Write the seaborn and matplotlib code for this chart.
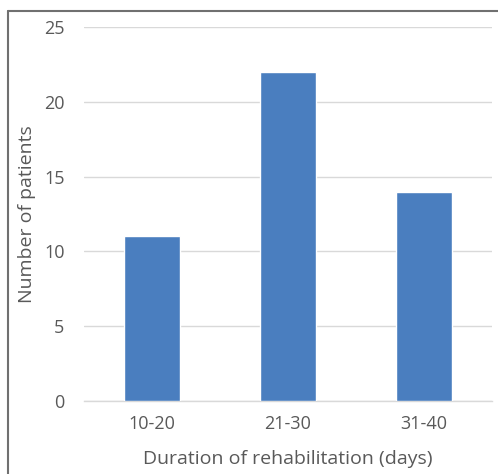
import pandas as pd
import matplotlib.pyplot as plt
import seaborn as sns
from matplotlib.lines import Line2D

categories = ["10-20", "21-30", "31-40"]
patients = [11, 22, 14]
y_ticks = [0, 5, 10, 15, 20, 25]

df = pd.DataFrame({"duration": categories, "patients": patients})

sns.set_theme(style="white")
plt.rcParams["font.family"] = ["Open Sans", "DejaVu Sans"]

fig = plt.figure(figsize=(4.98, 4.74), dpi=100)
ax = fig.add_axes([84 / 498, (474 - 401) / 474, (492 - 84) / 498, (401 - 27) / 474])

sns.barplot(data=df, x="duration", y="patients", color="#4a7ebf", width=0.41,
            saturation=1, ax=ax, zorder=3)

ax.set_ylim(0, 25)
ax.set_xlim(-0.5, 2.5)
ax.set_yticks(y_ticks)
ax.yaxis.grid(True, color="#d9d9d9", linewidth=1, zorder=0)
for s in ["top", "right", "left"]:
    ax.spines[s].set_visible(False)
ax.spines["bottom"].set_color("#d9d9d9")
ax.spines["bottom"].set_linewidth(1)
ax.tick_params(axis="both", length=0, labelsize=13, labelcolor="#595959")
ax.tick_params(axis="y", pad=14)
ax.tick_params(axis="x", pad=10)
ax.set_xlabel("Duration of rehabilitation (days)", fontsize=14, color="#595959", labelpad=12)
ax.set_ylabel("Number of patients", fontsize=14, color="#595959", labelpad=6)

# outer frame (left and top only)
fig.add_artist(Line2D([8 / 498, 8 / 498], [0, 1 - 11 / 474], color="#707070", linewidth=1.5,
                      transform=fig.transFigure))
fig.add_artist(Line2D([8 / 498, 1], [1 - 11 / 474, 1 - 11 / 474], color="#707070", linewidth=1.5,
                      transform=fig.transFigure))

fig.savefig("out.png", dpi=100)
